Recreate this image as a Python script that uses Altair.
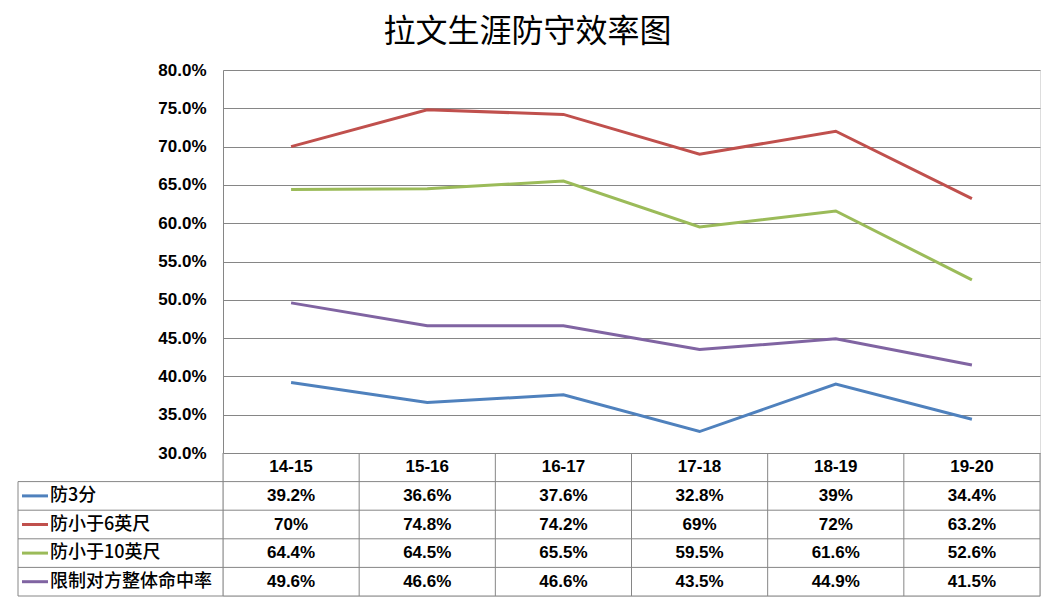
import altair as alt
import pandas as pd

# ---- data ----
seasons = ["14-15", "15-16", "16-17", "17-18", "18-19", "19-20"]
series_names = ["防3分", "防小于6英尺", "防小于10英尺", "限制对方整体命中率"]
def_3pt = [39.2, 36.6, 37.6, 32.8, 39, 34.4]
def_6ft = [70, 74.8, 74.2, 69, 72, 63.2]
def_10ft = [64.4, 64.5, 65.5, 59.5, 61.6, 52.6]
def_fg = [49.6, 46.6, 46.6, 43.5, 44.9, 41.5]
colors = ["#4F81BD", "#C0504D", "#9BBB59", "#8064A2"]
y_ticks = [30, 35, 40, 45, 50, 55, 60, 65, 70, 75, 80]
title_text = "拉文生涯防守效率图"

rows = []
for i, (name, vals) in enumerate(zip(series_names, [def_3pt, def_6ft, def_10ft, def_fg])):
    for s, v in zip(seasons, vals):
        rows.append({"series": name, "season": s, "value": v,
                     "label": f"{v:g}%", "row": i + 1.5})
df = pd.DataFrame(rows)

header_df = pd.DataFrame({"season": seasons, "r": [0.5] * len(seasons)})
rowlab_df = pd.DataFrame({"series": series_names,
                          "r": [i + 1.5 for i in range(len(series_names))]})
hlines_df = pd.DataFrame({"r": [1, 2, 3, 4, 5]})
vlines_df = pd.DataFrame({"season": seasons, "r": [0] * 6, "r2": [5] * 6})
vlast_df = pd.DataFrame({"season": [seasons[-1]], "r": [0], "r2": [5]})
vleft_df = pd.DataFrame({"r": [1], "r2": [5]})

# ---- layout constants ----
W, H = 817, 526
PLOT_H = 383
GRID = "#868686"
NUM_FONT = "Liberation Sans"
CJK_FONT = "Noto Sans CJK SC"

xs = alt.Scale(type="band", domain=seasons, paddingInner=0, paddingOuter=0)
ts = alt.Scale(domain=[0, 5], range=[PLOT_H, H], nice=False, zero=False)
cs = alt.Scale(domain=series_names, range=colors)

lines = alt.Chart(df).mark_line(strokeWidth=3).encode(
    x=alt.X("season:N", scale=xs, bandPosition=0.5, axis=None),
    y=alt.Y("value:Q",
            scale=alt.Scale(domain=[30, 80], range=[PLOT_H, 0], nice=False, zero=False),
            axis=alt.Axis(values=y_ticks,
                          labelExpr="format(datum.value, '.1f') + '%'",
                          grid=True, gridColor=GRID, gridWidth=1,
                          domain=True, domainColor=GRID, domainWidth=1,
                          ticks=False, labelPadding=17,
                          labelFont=NUM_FONT, labelFontSize=17, labelFontWeight="bold",
                          labelColor="black", title=None)),
    color=alt.Color("series:N", scale=cs, legend=None),
    detail="series:N",
)

hlines = alt.Chart(hlines_df).mark_rule(color=GRID, strokeWidth=1).encode(
    y=alt.Y("r:Q", scale=ts, axis=None),
    x=alt.value(-205), x2=alt.value(W),
)

vleft = alt.Chart(vleft_df).mark_rule(color=GRID, strokeWidth=1).encode(
    x=alt.value(-205),
    y=alt.Y("r:Q", scale=ts, axis=None), y2="r2:Q",
)

vlines = alt.Chart(vlines_df).mark_rule(color=GRID, strokeWidth=1).encode(
    x=alt.X("season:N", scale=xs, bandPosition=0, axis=None),
    y=alt.Y("r:Q", scale=ts, axis=None), y2="r2:Q",
)

vlast = alt.Chart(vlast_df).mark_rule(color=GRID, strokeWidth=1).encode(
    x=alt.X("season:N", scale=xs, bandPosition=1, axis=None),
    y=alt.Y("r:Q", scale=ts, axis=None), y2="r2:Q",
)

header = alt.Chart(header_df).mark_text(
    font=NUM_FONT, fontSize=17, fontWeight="bold", color="black", baseline="middle"
).encode(
    x=alt.X("season:N", scale=xs, bandPosition=0.5, axis=None),
    y=alt.Y("r:Q", scale=ts, axis=None),
    text="season:N",
)

values = alt.Chart(df).mark_text(
    font=NUM_FONT, fontSize=17, fontWeight="bold", color="black", baseline="middle"
).encode(
    x=alt.X("season:N", scale=xs, bandPosition=0.5, axis=None),
    y=alt.Y("row:Q", scale=ts, axis=None),
    text="label:N",
)

rowlabels = alt.Chart(rowlab_df).mark_text(
    font=CJK_FONT, fontSize=18, fontWeight=500, color="black", align="left",
    baseline="middle"
).encode(
    x=alt.value(-173),
    y=alt.Y("r:Q", scale=ts, axis=None),
    text="series:N",
)

swatches = alt.Chart(rowlab_df).mark_rule(strokeWidth=3).encode(
    x=alt.value(-201), x2=alt.value(-175),
    y=alt.Y("r:Q", scale=ts, axis=None),
    color=alt.Color("series:N", scale=cs, legend=None),
)

chart = alt.layer(
    lines, hlines, vleft, vlines, vlast, header, values, rowlabels, swatches
).resolve_scale(
    y="independent"
).properties(
    width=W, height=H,
    autosize=alt.AutoSizeParams(type="none"),
    padding={"left": 223, "top": 70, "right": 13, "bottom": 3},
    title=alt.Title(title_text, font=CJK_FONT, fontSize=32, fontWeight="normal",
                    color="black", anchor="middle", dx=-104, offset=12),
).configure_view(strokeWidth=0).configure(background="white")

chart.save("out.html", embed_options={"renderer": "svg", "actions": False})
